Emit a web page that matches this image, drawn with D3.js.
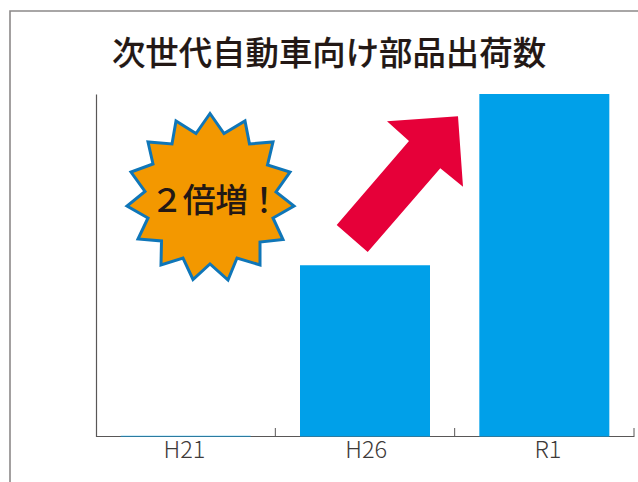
<!DOCTYPE html>
<html lang="ja">
<head>
<meta charset="utf-8">
<script src="https://cdn.jsdelivr.net/npm/d3@7"></script>
<style>
  html, body { margin: 0; padding: 0; background: #fff; }
  svg { display: block; }
  text { font-family: "Noto Sans CJK JP", "Noto Sans", sans-serif; }
</style>
</head>
<body>
<svg id="chart" width="638" height="482"></svg>
<script>
// Shipments of parts for next-generation vehicles (index, R1 = 100)
const categories = ["H21", "H26", "R1"];
const shipments = [0.2, 50, 100];
const chartTitle = "次世代自動車向け部品出荷数";
const burstLabel = ["２", "倍", "増", "！"];

const svg = d3.select("#chart");
const inkDark = "#231815", axisInk = "#595757", barBlue = "#00a0e9";

// Outer frame, open on the right and bottom
svg.append("path")
  .attr("d", d3.line()([[10, 482], [10, 11], [638, 11]]))
  .attr("fill", "none").attr("stroke", "#8c8989").attr("stroke-width", 1.6);

svg.append("text")
  .attr("x", 329).attr("y", 65)
  .attr("text-anchor", "middle")
  .attr("font-size", 33.4).attr("font-weight", 500)
  .attr("stroke", inkDark).attr("stroke-width", 0.15)
  .attr("fill", inkDark)
  .text(chartTitle);

const x = d3.scaleBand().domain(categories).range([96, 634]);
const y = d3.scaleLinear().domain([0, 100]).range([436.5, 94]);
const barWidth = 130;

// Axis lines
const axisLeft = svg.append("g")
  .attr("transform", "translate(96,0)")
  .call(d3.axisLeft(y).tickValues([]).tickSize(0));
axisLeft.select(".domain").attr("stroke", axisInk).attr("stroke-width", 1.2);

const axisBottom = svg.append("g")
  .attr("transform", "translate(0,436)")
  .call(d3.axisBottom(x).tickValues([]).tickSize(0));
axisBottom.select(".domain").attr("stroke", axisInk).attr("stroke-width", 1.2);

// Category labels sit a little wider apart than the bands
const labelX = d3.scalePoint().domain(categories).range([184, 547.5]);
const labelAxis = svg.append("g")
  .attr("transform", "translate(0,436)")
  .call(d3.axisBottom(labelX).tickSize(0).tickPadding(5));
labelAxis.select(".domain").remove();
labelAxis.selectAll("text")
  .attr("font-size", 23.5).attr("font-weight", 300)
  .attr("font-family", "'Open Sans', sans-serif")
  .attr("fill", "#3e3a39");

// Separator ticks sit between the categories and point upward
const boundaries = categories.map((c) => x(c)).concat(x.range()[1]);
axisBottom.selectAll(".sep").data(boundaries.slice(1)).join("line")
  .attr("class", "sep")
  .attr("x1", (d) => d).attr("x2", (d) => d)
  .attr("y1", 0).attr("y2", -8)
  .attr("stroke", axisInk).attr("stroke-width", 1);

// Bars
svg.append("g").selectAll("rect").data(shipments).join("rect")
  .attr("x", (d, i) => x(categories[i]) + (x.bandwidth() - barWidth) / 2)
  .attr("y", (d) => y(d))
  .attr("width", barWidth)
  .attr("height", (d) => y(0) - y(d))
  .attr("fill", barBlue);

// Upward arrow between the last two bars
const arrowOutline = [[336.7, 225], [409, 141], [387, 121.3], [458, 116.3], [463, 186.7], [440.3, 168.3], [367.7, 252]];
svg.append("polygon")
  .attr("points", arrowOutline.join(" "))
  .attr("fill", "#e60039");

// Starburst callout
const burstOutline = [
  [210, 113.5], [224, 133.5], [245, 121], [249.5, 144], [273, 142], [267.5, 165], [290, 172],
  [276, 192], [294, 206], [273, 218], [283, 239.5], [260, 242], [260, 265], [237, 258],
  [228, 280], [210, 264], [193, 279.5], [183, 258], [161, 265], [161.5, 241], [138, 239],
  [148, 218], [127, 206], [145, 191.5], [131, 172], [153, 164], [148, 142], [172, 144],
  [176, 121], [196, 133.5]
];
svg.append("polygon")
  .attr("points", burstOutline.join(" "))
  .attr("fill", "#f39800")
  .attr("stroke", "#0f76b8").attr("stroke-width", 3)
  .attr("stroke-linejoin", "miter");

// Callout text, set glyph by glyph for its tight spacing
const burstX = d3.scalePoint().domain(burstLabel).range([167, 264]);
svg.append("g").selectAll("text").data(burstLabel).join("text")
  .attr("x", (d) => burstX(d)).attr("y", 211.5)
  .attr("text-anchor", "middle")
  .attr("font-size", 33).attr("font-weight", 500)
  .attr("fill", inkDark)
  .text((d) => d);
</script>
</body>
</html>
